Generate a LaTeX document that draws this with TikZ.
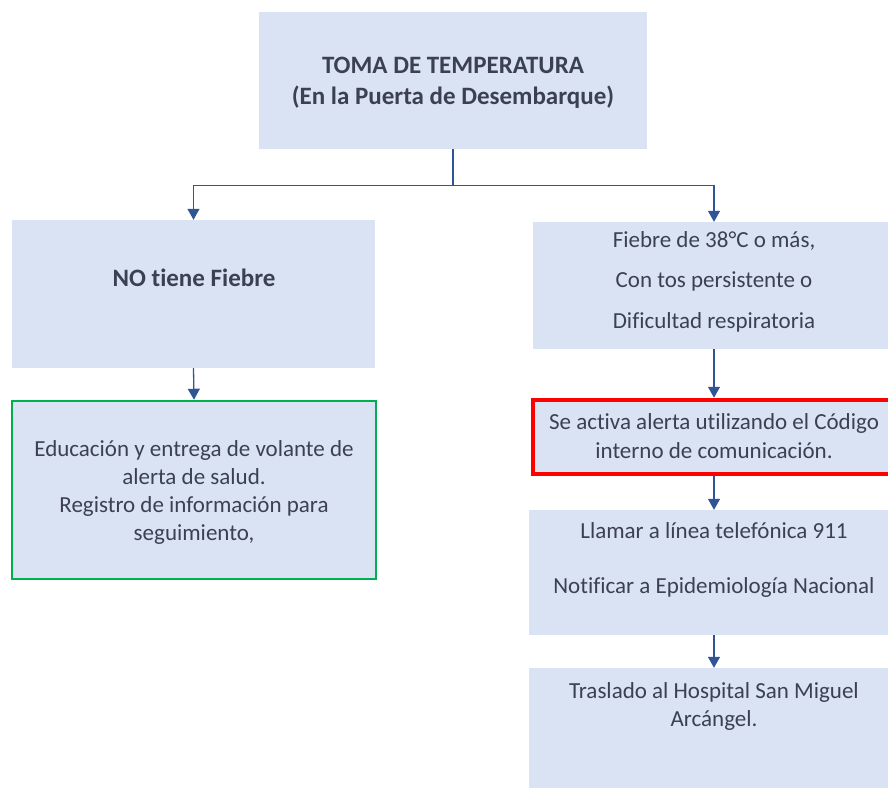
\documentclass[tikz,border=0pt]{standalone}
\usepackage{fontspec}
\setmainfont{Carlito}[Ligatures={NoCommon}]
\usetikzlibrary{arrows.meta}

\definecolor{boxfill}{HTML}{DAE3F3}
\definecolor{txtgray}{HTML}{3B4150}
\definecolor{linkblue}{HTML}{2F5597}
\definecolor{okgreen}{HTML}{00B050}

\begin{document}
\begin{tikzpicture}[x=1pt, y=-1pt,
  box/.style={fill=boxfill, draw=none, inner sep=0pt},
  txt/.style={text=txtgray, align=center, inner sep=0pt, font=\fontsize{23}{28}\selectfont},
  link/.style={linkblue, line width=1.3pt, -{Triangle[width=12pt,length=11pt]}}]

  \useasboundingbox (0,0) rectangle (888,787);

  % Boxes (pixel coordinates, y downwards)
  \node[box, minimum width=388, minimum height=137] (toma) at (453,80.5) {};
  \node[box, minimum width=363, minimum height=148] (nofiebre) at (193.5,294) {};
  \node[box, minimum width=362, minimum height=127] (fiebre) at (714,285.5) {};
  \node[box, draw=okgreen, line width=2.5pt, minimum width=364, minimum height=178] (educa) at (194,490) {};
  \node[box, draw=red, line width=4.5pt, minimum width=362, minimum height=74] (alerta) at (714,437) {};
  \node[box, minimum width=370, minimum height=125] (llamar) at (714,572.5) {};
  \node[box, minimum width=370, minimum height=120] (traslado) at (714,728) {};

  % Texts
  \node[txt, font=\fontsize{25}{31}\selectfont\bfseries] at (453,82.5)
    {TOMA DE TEMPERATURA\\(En la Puerta de Desembarque)};
  \node[txt, font=\fontsize{25}{28}\selectfont\bfseries] at (194,278) {NO tiene Fiebre};
  \node[txt, font=\fontsize{23}{40.5}\selectfont] at (714,281.5)
    {Fiebre de 38°C o más,\\Con tos persistente o\\Dificultad respiratoria};
  \node[txt] at (194,492)
    {Educación y entrega de volante de\\alerta de salud.\\Registro de información para\\seguimiento,};
  \node[txt, font=\fontsize{23}{29}\selectfont] at (714,436.5)
    {Se activa alerta utilizando el Código\\interno de comunicación.};
  \node[txt, font=\fontsize{23}{55}\selectfont] at (714,559.5)
    {Llamar a línea telefónica 911\\Notificar a Epidemiología Nacional};
  \node[txt] at (714,706) {Traslado al Hospital San Miguel\\Arcángel.};

  % Connectors
  \draw[link] (toma.south) -- ++(0,36) -| (nofiebre.north);
  \draw[link] (toma.south) -- ++(0,36) -| (fiebre.north);
  \draw[link] (nofiebre.south) -- (educa.north);
  \draw[link] (fiebre.south) -- (alerta.north);
  \draw[link] (alerta.south) -- (llamar.north);
  \draw[link] (llamar.south) -- (traslado.north);

\end{tikzpicture}
\end{document}
